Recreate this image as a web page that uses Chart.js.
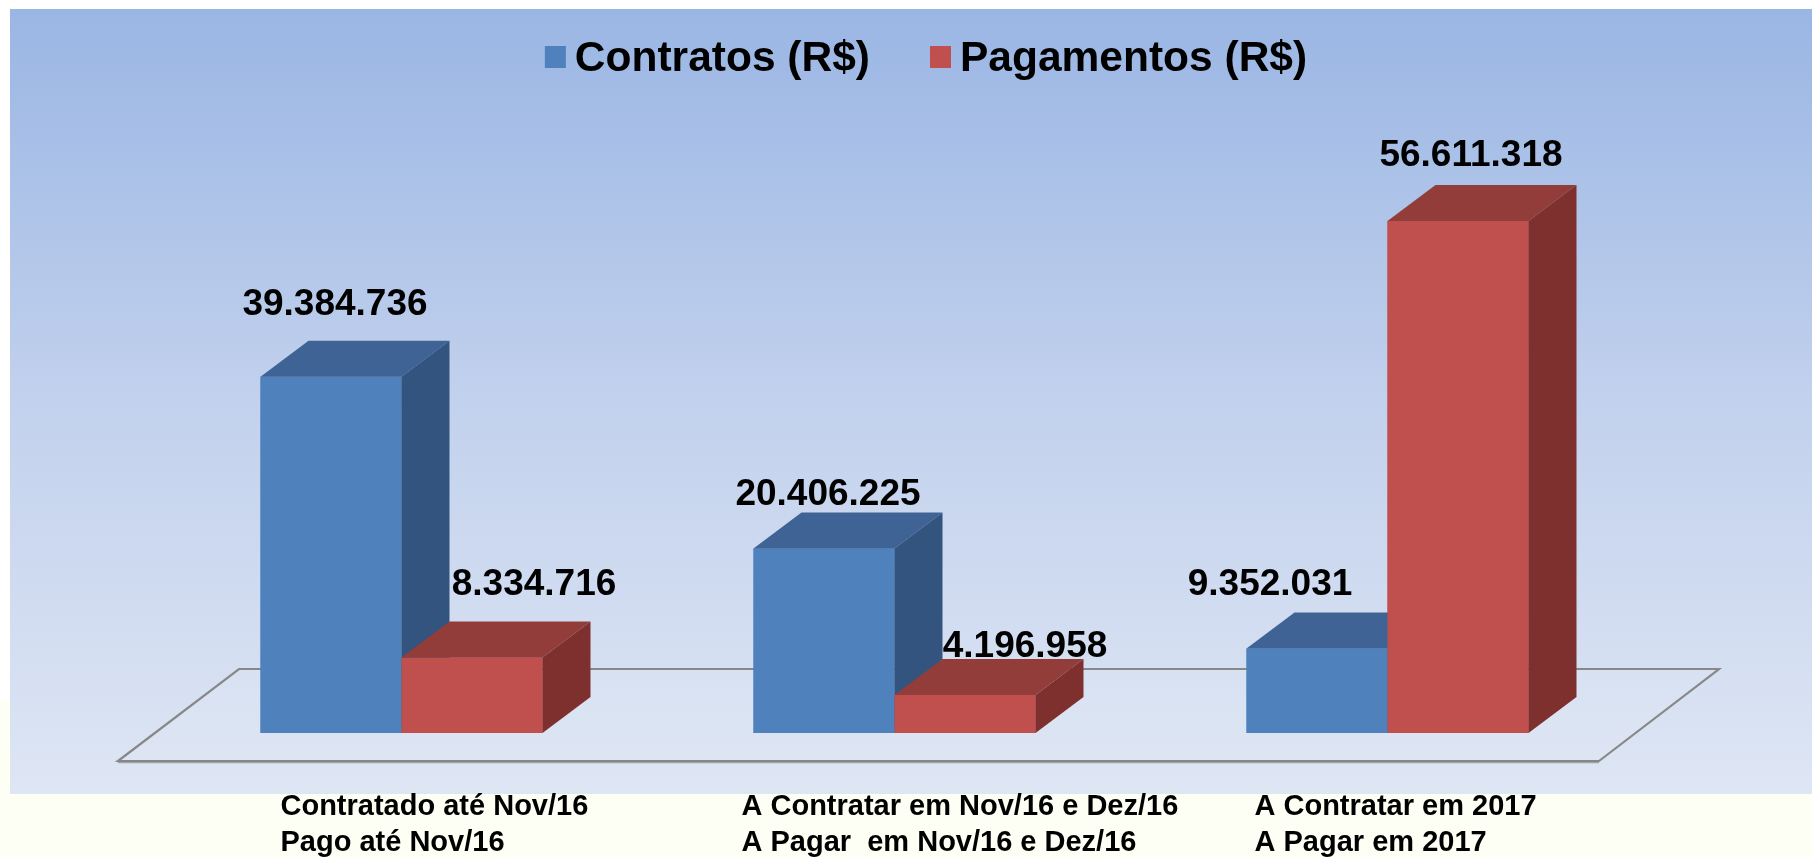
<!DOCTYPE html>
<html>
<head>
<meta charset="utf-8">
<script src="https://cdn.jsdelivr.net/npm/chart.js@4.4.1/dist/chart.umd.min.js"></script>
<style>
  html, body { margin: 0; padding: 0; background: #FDFEF4; overflow: hidden; }
  #wrap { position: relative; width: 1812px; height: 857px; }
</style>
</head>
<body>
<div id="wrap"><canvas id="c"></canvas></div>
<script>
// ---------------- data ----------------
const categories = [
  ['Contratado até Nov/16', 'Pago até Nov/16'],
  ['A Contratar em Nov/16 e Dez/16', 'A Pagar  em Nov/16 e Dez/16'],
  ['A Contratar em 2017', 'A Pagar em 2017']
];
const seriesNames = ['Contratos (R$)', 'Pagamentos (R$)'];
const contratos = [39384736, 20406225, 9352031];
const pagamentos = [8334716, 4196958, 56611318];
const yMin = 0;
const yMax = 70000000;

// ---------------- style ----------------
const FONT = "'Liberation Sans', Arial, Helvetica, sans-serif";
const frontColors = ['#4F81BD', '#C0504D'];
const topColors = ['#3E6394', '#933D3A'];
const sideColors = ['#32547F', '#7E302E'];
const depthX = 48, depthY = 36;
// value label offsets (from bar front centre / bar top), per series per category
const labelDx = [[4, 4, -47], [62, 60, 13]];
const labelDy = [[-62, -43, -53], [-63, -38, -55]];
// category label offsets (left edge relative to category centre)
const catDx = [-121, -153, -133];

function fmt(v) { return String(v).replace(/\B(?=(\d{3})+(?!\d))/g, '.'); }

const backgroundPlugin = {
  id: 'bgPanel',
  beforeDraw(chart) {
    const ctx = chart.ctx, W = chart.width, H = chart.height;
    ctx.save();
    ctx.fillStyle = '#FDFEF4';
    ctx.fillRect(0, 0, W, H);
    ctx.fillStyle = '#FFFFFF';
    ctx.fillRect(0, 0, W, 9);
    ctx.fillRect(0, 0, 10, 700);
    const g = ctx.createLinearGradient(0, 9, 0, 794);
    g.addColorStop(0, '#9AB6E4');
    g.addColorStop(0.5, '#C2D1ED');
    g.addColorStop(1, '#DEE6F4');
    ctx.fillStyle = g;
    ctx.fillRect(10, 9, W - 10, 785);
    ctx.restore();
  }
};

const floorPlugin = {
  id: 'floor3d',
  beforeDatasetsDraw(chart) {
    const ctx = chart.ctx, a = chart.chartArea;
    const base = chart.scales.y.getPixelForValue(0);
    const backY = base - 64, frontY = base + 28;
    ctx.save();
    ctx.beginPath();
    ctx.moveTo(a.left + 84, backY);
    ctx.lineTo(a.right + 85, backY);
    ctx.lineTo(a.right - 35, frontY);
    ctx.lineTo(a.left - 37, frontY);
    ctx.closePath();
    ctx.fillStyle = 'rgba(225,232,246,0.3)';
    ctx.fill();
    ctx.strokeStyle = '#888888';
    ctx.lineWidth = 2.2;
    ctx.stroke();
    ctx.beginPath();
    ctx.moveTo(a.left - 37, frontY + 1.5);
    ctx.lineTo(a.right - 35, frontY + 1.5);
    ctx.strokeStyle = 'rgba(120,120,120,0.6)';
    ctx.lineWidth = 1.5;
    ctx.stroke();
    ctx.restore();
  }
};

// Redraw bars in series order (front face, then top and side) so that later
// series sit in front of earlier ones, like the 3-D column chart.
const box3dPlugin = {
  id: 'box3d',
  afterDatasetsDraw(chart) {
    const ctx = chart.ctx;
    ctx.save();
    chart.data.datasets.forEach((ds, di) => {
      const meta = chart.getDatasetMeta(di);
      meta.data.forEach(el => {
        el.draw(ctx, chart.chartArea);
        const p = el.getProps(['x', 'y', 'base', 'width'], true);
        const l = p.x - p.width / 2, r = p.x + p.width / 2, t = p.y, b = p.base;
        ctx.beginPath();
        ctx.moveTo(l, t);
        ctx.lineTo(l + depthX, t - depthY);
        ctx.lineTo(r + depthX, t - depthY);
        ctx.lineTo(r, t);
        ctx.closePath();
        ctx.fillStyle = topColors[di];
        ctx.fill();
        ctx.beginPath();
        ctx.moveTo(r, t);
        ctx.lineTo(r + depthX, t - depthY);
        ctx.lineTo(r + depthX, b - depthY);
        ctx.lineTo(r, b);
        ctx.closePath();
        ctx.fillStyle = sideColors[di];
        ctx.fill();
      });
    });
    ctx.restore();
  }
};

const labelsPlugin = {
  id: 'texts',
  afterDraw(chart) {
    const ctx = chart.ctx;
    ctx.save();
    ctx.fillStyle = '#000000';
    ctx.font = 'bold 37px ' + FONT;
    ctx.textAlign = 'center';
    ctx.textBaseline = 'alphabetic';
    chart.data.datasets.forEach((ds, di) => {
      const meta = chart.getDatasetMeta(di);
      meta.data.forEach((el, i) => {
        const p = el.getProps(['x', 'y'], true);
        ctx.fillText(fmt(ds.data[i]), p.x + labelDx[di][i], p.y + labelDy[di][i]);
      });
    });
    const xs = chart.scales.x;
    const b = chart.scales.y.getPixelForValue(0);
    ctx.font = 'bold 29px ' + FONT;
    ctx.textAlign = 'left';
    chart.data.labels.forEach((lab, i) => {
      const x = xs.getPixelForValue(i) + catDx[i];
      lab.forEach((line, k) => ctx.fillText(line, x, b + 82 + k * 36));
    });
    ctx.font = 'bold 42.5px ' + FONT;
    const boxW = 21, boxH = 22, gap = 9, itemGap = 60;
    const widths = chart.data.datasets.map(ds => ctx.measureText(ds.label).width);
    const total = widths.reduce((s, w) => s + boxW + gap + w, 0) + itemGap * (widths.length - 1);
    let x = 926 - total / 2;
    chart.data.datasets.forEach((ds, di) => {
      ctx.fillStyle = frontColors[di];
      ctx.fillRect(x, 46, boxW, boxH);
      ctx.fillStyle = '#000000';
      ctx.fillText(ds.label, x + boxW + gap, 71);
      x += boxW + gap + widths[di] + itemGap;
    });
    ctx.restore();
  }
};

new Chart(document.getElementById('c'), {
  type: 'bar',
  data: {
    labels: categories,
    datasets: [
      { label: seriesNames[0], data: contratos, backgroundColor: frontColors[0], borderWidth: 0 },
      { label: seriesNames[1], data: pagamentos, backgroundColor: frontColors[1], borderWidth: 0 }
    ]
  },
  options: {
    responsive: true,
    maintainAspectRatio: false,
    animation: false,
    devicePixelRatio: 1,
    layout: { padding: { left: 155, right: 178, top: 99.8, bottom: 124 } },
    datasets: { bar: { categoryPercentage: 0.572, barPercentage: 1.0 } },
    scales: {
      x: { display: false, grid: { display: false } },
      y: { display: false, min: yMin, max: yMax, grid: { display: false } }
    },
    plugins: {
      legend: { display: false },
      tooltip: { enabled: false },
      title: { display: false }
    }
  },
  plugins: [backgroundPlugin, floorPlugin, box3dPlugin, labelsPlugin]
});
</script>
</body>
</html>
